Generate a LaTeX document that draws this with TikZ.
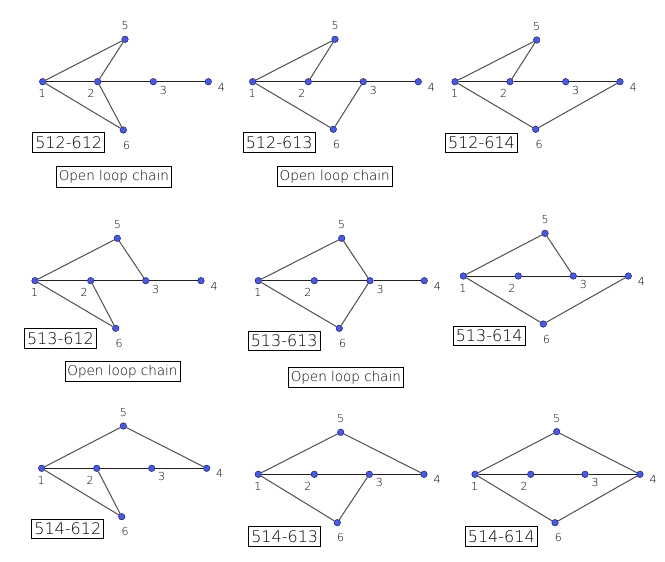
\documentclass[tikz,border=0pt]{standalone}
\usepackage{fontspec}
\setmainfont{DejaVu Sans ExtraLight}
\definecolor{dotblue}{HTML}{4A5AE0}
\definecolor{dotedge}{HTML}{1A2070}
\definecolor{edgegray}{HTML}{505050}
\definecolor{hgray}{HTML}{202020}
\tikzset{
  dot/.style={circle, fill=dotblue, draw=dotedge, line width=0.5pt, inner sep=0pt, minimum size=6.5pt},
  eline/.style={draw=edgegray, line width=1pt},
  hline/.style={draw=hgray, line width=1pt},
  lbl/.style={font=\fontsize{11}{12}\selectfont, inner sep=0pt},
  tag/.style={draw=black, line width=0.8pt, font=\fontsize{16}{18}\selectfont, inner xsep=2.5pt, inner ysep=0pt, minimum height=19.5pt},
  chainbox/.style={draw=black, line width=0.8pt, font=\fontsize{13.5}{15}\selectfont, inner sep=0pt, minimum width=115pt, minimum height=20.5pt}
}
\newcommand\gpanel[7]{%
  \node[dot] (#1a) at #2 {};
  \node[dot] (#1b) at #3 {};
  \node[dot] (#1c) at #4 {};
  \node[dot] (#1d) at #5 {};
  \node[dot] (#1e) at #6 {};
  \node[dot] (#1f) at #7 {};
  \node[lbl] (#1la) at ([shift={(-0.5,12)}]#1a) {1};
  \node[lbl] (#1lb) at ([shift={(-6.5,12)}]#1b) {2};
  \node[lbl] (#1lc) at ([shift={(10,8.5)}]#1c) {3};
  \node[lbl] (#1ld) at ([shift={(13,5.5)}]#1d) {4};
  \node[lbl] (#1le) at ([shift={(0,-13.3)}]#1e) {5};
  \node[lbl] (#1lf) at ([shift={(3.3,15)}]#1f) {6};
  \draw[hline] (#1a) -- (#1b);
  \draw[hline] (#1b) -- (#1c);
  \draw[hline] (#1c) -- (#1d);
  \draw[eline] (#1a) -- (#1e);
  \draw[eline] (#1a) -- (#1f);
}
\begin{document}
\begin{tikzpicture}[x=1pt,y=-1pt]
\useasboundingbox[fill=white] (0,0) rectangle (665,562);
% Row 1
\gpanel{A}{(42.7,81.7)}{(97.7,81.7)}{(153.3,81.7)}{(208.3,81.7)}{(125,39.3)}{(123.3,130)}
\draw[eline] (Ae) -- (Ab);
\draw[eline] (Af) -- (Ab);
\node[tag] (At) at (68.7,142.2) {512-612};
\node[chainbox] (Ac) at (113.8,176.7) {Open loop chain};

\gpanel{B}{(252.7,81.7)}{(308.3,81.7)}{(363.3,81.7)}{(418.3,81.7)}{(335,39.3)}{(333.3,129.3)}
\draw[eline] (Be) -- (Bb);
\draw[eline] (Bf) -- (Bc);
\node[tag] (Bt) at (279.2,142.2) {512-613};
\node[chainbox] (Bc2) at (334.7,176.5) {Open loop chain};

\gpanel{C}{(455,81.7)}{(510,81.7)}{(565.7,81.7)}{(620,81.7)}{(536.7,40)}{(535.7,129.3)}
\draw[eline] (Ce) -- (Cb);
\draw[eline] (Cf) -- (Cd);
\node[tag] (Ct) at (481.5,142.8) {512-614};

% Row 2
\gpanel{D}{(35,280.7)}{(90.7,280.7)}{(145.7,280.7)}{(201,280.7)}{(117.3,238.3)}{(115.7,328.3)}
\draw[eline] (De) -- (Dc);
\draw[eline] (Df) -- (Db);
\node[tag] (Dt) at (60.5,338.3) {513-612};
\node[chainbox] (Dc2) at (122.5,371.3) {Open loop chain};

\gpanel{E}{(258.3,280.7)}{(314.3,280.7)}{(370,280.7)}{(424.3,280.7)}{(341.7,238.3)}{(339.3,328.3)}
\draw[eline] (Ee) -- (Ec);
\draw[eline] (Ef) -- (Ec);
\node[tag] (Et) at (284.2,340.7) {513-613};
\node[chainbox] (Ec2) at (345.8,377.5) {Open loop chain};

\gpanel{F}{(463.3,276)}{(518.3,276)}{(573.3,276)}{(628.3,276)}{(545,233.3)}{(543.3,324)}
\draw[eline] (Fe) -- (Fc);
\draw[eline] (Ff) -- (Fd);
\node[tag] (Ft) at (489.2,335.8) {513-614};

% Row 3
\gpanel{G}{(41.7,468.3)}{(96.7,468.3)}{(151.7,468.3)}{(206.7,468.3)}{(123.3,426)}{(121.7,516.7)}
\draw[eline] (Ge) -- (Gd);
\draw[eline] (Gf) -- (Gb);
\node[tag] (Gt) at (67.8,528.8) {514-612};

\gpanel{H}{(258.3,474.3)}{(314.3,474.3)}{(369.3,474.3)}{(424,474.3)}{(340.7,432.3)}{(337.3,522.7)}
\draw[eline] (He) -- (Hd);
\draw[eline] (Hf) -- (Hc);
\node[tag] (Ht) at (284.7,536.3) {514-613};

\gpanel{I}{(475,474.3)}{(530.7,474.3)}{(585,474.3)}{(640,474.3)}{(556.7,431.7)}{(555,522.7)}
\draw[eline] (Ie) -- (Id);
\draw[eline] (If) -- (Id);
\node[tag] (It) at (501.3,536.3) {514-614};
\end{tikzpicture}
\end{document}
